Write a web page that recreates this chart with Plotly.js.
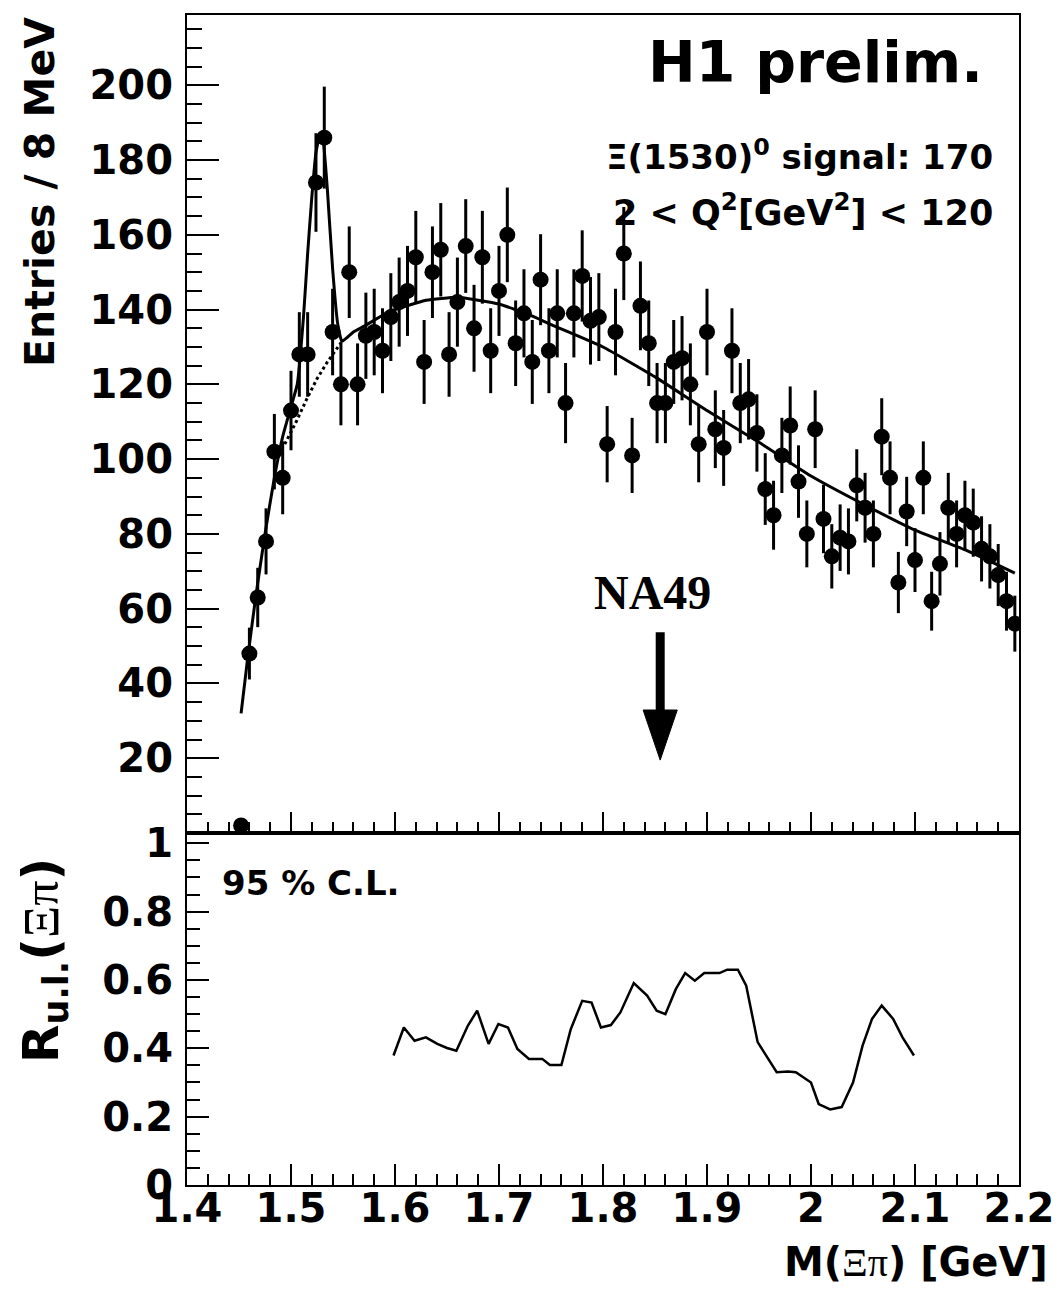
<!DOCTYPE html>
<html>
<head>
<meta charset="utf-8">
<script src="https://cdn.plot.ly/plotly-3.0.1.min.js"></script>
<style>html,body{margin:0;padding:0;background:#fff;}#chart{width:1060px;height:1290px;}</style>
</head>
<body>
<div id="chart"></div>
<script>
// ---- data ----
const massBins = [1.452,1.460,1.468,1.476,1.484,1.492,1.500,1.508,1.516,1.524,1.532,1.540,1.548,1.556,1.564,1.572,1.580,1.588,1.596,1.604,1.612,1.620,1.628,1.636,1.644,1.652,1.660,1.668,1.676,1.684,1.692,1.700,1.708,1.716,1.724,1.732,1.740,1.748,1.756,1.764,1.772,1.780,1.788,1.796,1.804,1.812,1.820,1.828,1.836,1.844,1.852,1.860,1.868,1.876,1.884,1.892,1.900,1.908,1.916,1.924,1.932,1.940,1.948,1.956,1.964,1.972,1.980,1.988,1.996,2.004,2.012,2.020,2.028,2.036,2.044,2.052,2.060,2.068,2.076,2.084,2.092,2.100,2.108,2.116,2.124,2.132,2.140,2.148,2.156,2.164,2.172,2.180,2.188,2.196];
const entries = [2,48,63,78,102,95,113,128,128,174,186,134,120,150,120,133,134,129,138,142,145,154,126,150,156,128,142,157,135,154,129,145,160,131,139,126,148,129,139,115,139,149,137,138,104,134,155,101,141,131,115,115,126,127,120,104,134,108,103,129,115,116,107,92,85,101,109,94,80,108,84,74,79,78,93,87,80,106,95,67,86,73,95,62,72,87,80,85,83,76,74,69,62,56];

// fit: signal + background (solid)
const fitX = [1.452,1.458,1.466,1.475,1.484,1.492,1.500,1.506,1.512,1.516,1.520,1.524,1.528,1.531,1.535,1.540,1.545,1.549,1.560,1.570,1.595,1.630,1.660,1.700,1.730,1.750,1.800,1.850,1.900,1.950,2.000,2.050,2.100,2.150,2.196];
const fitY = [32,46,63,80,95,106,114,120,138,155,170,182,187,185,172,151,136,131.5,134,135.5,139.5,142.5,143.3,141.5,138.5,136,130,122,113,104.5,95.5,88,81,75.5,69.5];
// background under the peak (dotted)
const bgX = [1.494,1.505,1.515,1.525,1.535,1.545,1.549];
const bgY = [104,110,116,121.5,126,130,131.5];

// upper limit R_u.l. (95% C.L.)
const ulX = [1.5986,1.602,1.6085,1.6188,1.6297,1.6407,1.650,1.659,1.670,1.679,1.690,1.6994,1.7086,1.7177,1.7288,1.7416,1.7489,1.760,1.769,1.780,1.789,1.798,1.8076,1.8167,1.8296,1.8424,1.8516,1.860,1.870,1.879,1.8883,1.8974,1.912,1.9194,1.9297,1.9377,1.9432,1.9487,1.956,1.967,1.978,1.9854,2.000,2.0074,2.0184,2.0295,2.0404,2.0496,2.0587,2.068,2.079,2.088,2.099];
const ulY = [0.379,0.408,0.461,0.422,0.432,0.413,0.401,0.393,0.466,0.51,0.413,0.471,0.461,0.398,0.369,0.369,0.351,0.351,0.456,0.539,0.534,0.461,0.468,0.505,0.591,0.554,0.51,0.50,0.573,0.62,0.598,0.62,0.62,0.63,0.63,0.583,0.505,0.418,0.383,0.33,0.332,0.33,0.30,0.237,0.221,0.228,0.30,0.408,0.486,0.525,0.486,0.432,0.379];

// ticks
const xTickVals = [1.4,1.5,1.6,1.7,1.8,1.9,2.0,2.1,2.2];
const xTickText = ['1.4','1.5','1.6','1.7','1.8','1.9','2','2.1','2.2'];
const topTickVals = [20,40,60,80,100,120,140,160,180,200];
const botTickVals = [0,0.2,0.4,0.6,0.8,1];
const botTickText = ['0','0.2','0.4','0.6','0.8','1'];

// ---- styling ----
const FONT = 'DejaVu Sans';
const GREEK = '<span style="font-family:\'Liberation Serif\';font-weight:normal">Ξπ</span>';
const tickFont = {family: FONT, size: 40, color: '#000', weight: 'bold'};
const axBase = {
  showline: true, linecolor: '#000', linewidth: 2, mirror: true,
  showgrid: false, zeroline: false, ticks: 'inside', tickcolor: '#000', tickwidth: 2
};

const traces = [
  {x: massBins, y: entries, type: 'scatter', mode: 'markers', xaxis: 'x', yaxis: 'y',
   marker: {color: '#000', size: 16, symbol: 'circle'},
   error_y: {type: 'sqrt', visible: true, color: '#000', thickness: 3, width: 0},
   hoverinfo: 'skip'},
  {x: fitX, y: fitY, type: 'scatter', mode: 'lines', xaxis: 'x', yaxis: 'y',
   line: {color: '#000', width: 3, shape: 'spline', smoothing: 0.4}, hoverinfo: 'skip'},
  {x: bgX, y: bgY, type: 'scatter', mode: 'lines', xaxis: 'x', yaxis: 'y',
   line: {color: '#000', width: 3, dash: 'dot'}, hoverinfo: 'skip'},
  {x: ulX, y: ulY, type: 'scatter', mode: 'lines', xaxis: 'x2', yaxis: 'y2',
   line: {color: '#000', width: 2.5}, hoverinfo: 'skip'}
];

const split = 352/1170;
const layout = {
  width: 1060, height: 1290,
  margin: {l: 187, r: 41, t: 15, b: 105, pad: 0},
  paper_bgcolor: '#fff', plot_bgcolor: '#fff',
  showlegend: false,
  font: {family: FONT, color: '#000'},
  xaxis: Object.assign({}, axBase, {
    domain: [0, 1], anchor: 'y', range: [1.4, 2.2],
    tickmode: 'array', tickvals: xTickVals, ticklen: 21, showticklabels: false,
    minor: {ticks: 'inside', tickmode: 'linear', tick0: 1.4, dtick: 0.02, ticklen: 11, tickwidth: 2, tickcolor: '#000'}
  }),
  yaxis: Object.assign({}, axBase, {
    domain: [split, 1], anchor: 'x', range: [0, 218.8],
    tickmode: 'array', tickvals: topTickVals, ticklen: 32, tickfont: tickFont, ticklabelstandoff: 4,
    minor: {ticks: 'inside', tickmode: 'linear', tick0: 0, dtick: 5, ticklen: 15, tickwidth: 2, tickcolor: '#000'}
  }),
  xaxis2: Object.assign({}, axBase, {
    domain: [0, 1], anchor: 'y2', range: [1.4, 2.2],
    tickmode: 'array', tickvals: xTickVals, ticktext: xTickText, ticklen: 21,
    tickfont: tickFont, ticklabelstandoff: -13,
    minor: {ticks: 'inside', tickmode: 'linear', tick0: 1.4, dtick: 0.02, ticklen: 11, tickwidth: 2, tickcolor: '#000'}
  }),
  yaxis2: Object.assign({}, axBase, {
    domain: [0, split], anchor: 'x2', range: [0, 1.03],
    tickmode: 'array', tickvals: botTickVals, ticktext: botTickText, ticklen: 22,
    tickfont: tickFont, ticklabelstandoff: 4,
    minor: {ticks: 'inside', tickmode: 'linear', tick0: 0, dtick: 0.05, ticklen: 13, tickwidth: 2, tickcolor: '#000'}
  }),
  shapes: [
    {type: 'line', xref: 'x', yref: 'y', x0: 1.855, x1: 1.855, y0: 53.7, y1: 30,
     line: {color: '#000', width: 9}},
    {type: 'path', xref: 'x', yref: 'y', path: 'M1.8386,32.9 L1.8714,32.9 L1.855,19.5 Z',
     fillcolor: '#000', line: {color: '#000', width: 1}}
  ],
  annotations: [
    {xref: 'x domain', yref: 'y domain', x: 0.959, y: 0.9425, xanchor: 'right', yanchor: 'middle',
     text: 'H1 prelim.', showarrow: false, font: {family: FONT, size: 57, weight: 'bold', color: '#000'}},
    {xref: 'x domain', yref: 'y domain', x: 0.971, y: 0.829, xanchor: 'right', yanchor: 'middle',
     text: 'Ξ(1530)<sup>0</sup> signal: 170', showarrow: false, font: {family: FONT, size: 34, weight: 'bold', color: '#000'}},
    {xref: 'x domain', yref: 'y domain', x: 0.971, y: 0.7616, xanchor: 'right', yanchor: 'middle',
     text: '2 &lt; Q<sup>2</sup>[GeV<sup>2</sup>] &lt; 120', showarrow: false, font: {family: FONT, size: 35, weight: 'bold', color: '#000'}},
    {xref: 'x', yref: 'y', x: 1.8475, y: 64.2, xanchor: 'center', yanchor: 'middle',
     text: 'NA49', showarrow: false, font: {family: 'Liberation Serif', size: 48, weight: 'bold', color: '#000'}},
    {xref: 'x2 domain', yref: 'y2 domain', x: 0.0397, y: 0.858, xanchor: 'left', yanchor: 'middle',
     text: '95 % C.L.', showarrow: false, font: {family: FONT, size: 34, weight: 'bold', color: '#000'}},
    {xref: 'paper', yref: 'paper', x: -0.1767, y: (1185-192)/1170, xanchor: 'center', yanchor: 'middle', textangle: -90,
     text: 'Entries / 8 MeV', showarrow: false, font: {family: FONT, size: 41, weight: 'bold', color: '#000'}},
    {xref: 'paper', yref: 'paper', x: -0.172, y: (1185-960)/1170, xanchor: 'center', yanchor: 'middle', textangle: -90,
     text: 'R<sub>u.l.</sub>(' + GREEK + ')', showarrow: false,
     font: {family: FONT, size: 50, weight: 'bold', color: '#000'}},
    {xref: 'paper', yref: 'paper', x: (1050-187)/832, y: (1185-1262)/1170, xanchor: 'right', yanchor: 'middle',
     text: 'M(' + GREEK + ') [GeV]', showarrow: false,
     font: {family: FONT, size: 40, weight: 'bold', color: '#000'}}
  ]
};

Plotly.newPlot('chart', traces, layout, {displayModeBar: false, staticPlot: true});
</script>
</body>
</html>
